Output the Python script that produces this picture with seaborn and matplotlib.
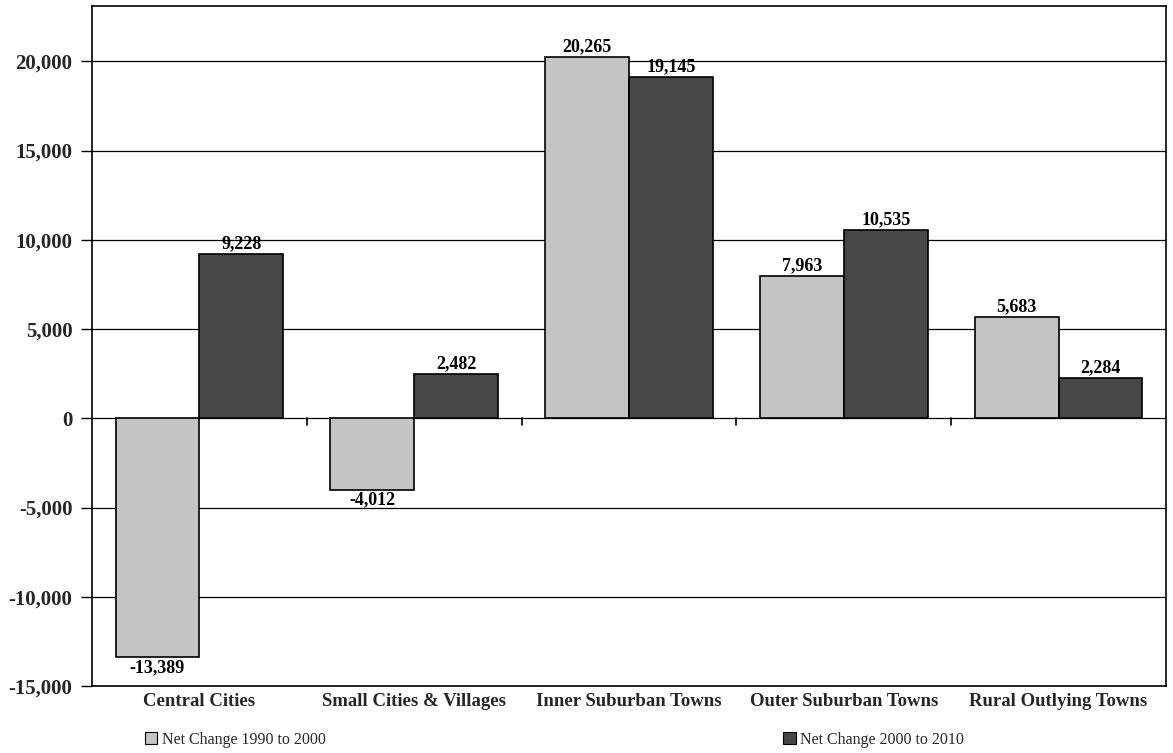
import pandas as pd
import matplotlib.pyplot as plt
import seaborn as sns
from matplotlib.patches import Patch

sns.set_theme(style="white")
plt.rcParams['font.family'] = ['Liberation Serif', 'DejaVu Serif']

categories = ['Central Cities', 'Small Cities & Villages', 'Inner Suburban Towns',
              'Outer Suburban Towns', 'Rural Outlying Towns']
change_1990_2000 = [-13389, -4012, 20265, 7963, 5683]
change_2000_2010 = [9228, 2482, 19145, 10535, 2284]
series_names = ['Net Change 1990 to 2000', 'Net Change 2000 to 2010']
yticks = [-15000, -10000, -5000, 0, 5000, 10000, 15000, 20000]

df = pd.DataFrame({
    'category': categories * 2,
    'value': change_1990_2000 + change_2000_2010,
    'series': [series_names[0]] * 5 + [series_names[1]] * 5,
})

colors = ['#c4c4c4', '#474747']

fig = plt.figure(figsize=(11.73, 7.53), dpi=100)
ax = fig.add_axes([0.0784, 0.089, 0.9156, 0.903])

sns.barplot(data=df, x='category', y='value', hue='series', palette=colors,
            width=0.78, edgecolor='black', linewidth=1.2, ax=ax, legend=False,
            errorbar=None, zorder=3)

for cont in ax.containers:
    for bar in cont:
        h = bar.get_height()
        x = bar.get_x() + bar.get_width() / 2
        if h >= 0:
            ax.text(x, h + 100, f'{h:,.0f}', ha='center', va='bottom',
                    fontsize=13, fontweight='bold', color='black')
        else:
            ax.text(x, h - 100, f'{h:,.0f}', ha='center', va='top',
                    fontsize=13, fontweight='bold', color='black')

ax.set_ylim(-15000, 23100)
ax.set_xlim(-0.5, 4.5)
ax.set_yticks(yticks)
ax.set_yticklabels([f'{v:,}' for v in yticks], fontsize=15, fontweight='bold')
ax.set_xticks(range(len(categories)))
ax.set_xticklabels(categories, fontsize=13.5, fontweight='bold')
ax.tick_params(axis='x', length=0, pad=5)
ax.tick_params(axis='y', length=8, color='black', left=True, width=1, pad=6)
ax.set_xlabel('')
ax.set_ylabel('')

for v in yticks:
    ax.axhline(v, color='black', linewidth=0.9, zorder=1)

# small tick marks on the zero line between groups
for xb in [0.5, 1.5, 2.5, 3.5]:
    ax.plot([xb, xb], [0, -350], color='black', linewidth=1.2, zorder=4)

for side in ['left', 'right', 'top', 'bottom']:
    ax.spines[side].set_visible(True)
    ax.spines[side].set_color('black')
    ax.spines[side].set_linewidth(1.2)

handles = [Patch(facecolor=c, edgecolor='black', linewidth=0.8) for c in colors]
fig.legend(handles, series_names, loc='lower left', bbox_to_anchor=(0.111, -0.012),
           ncol=2, frameon=False, fontsize=11.5, columnspacing=28.6,
           handlelength=0.8, handleheight=0.8, handletextpad=0.3)

fig.savefig('out.png', dpi=100, facecolor='white')
